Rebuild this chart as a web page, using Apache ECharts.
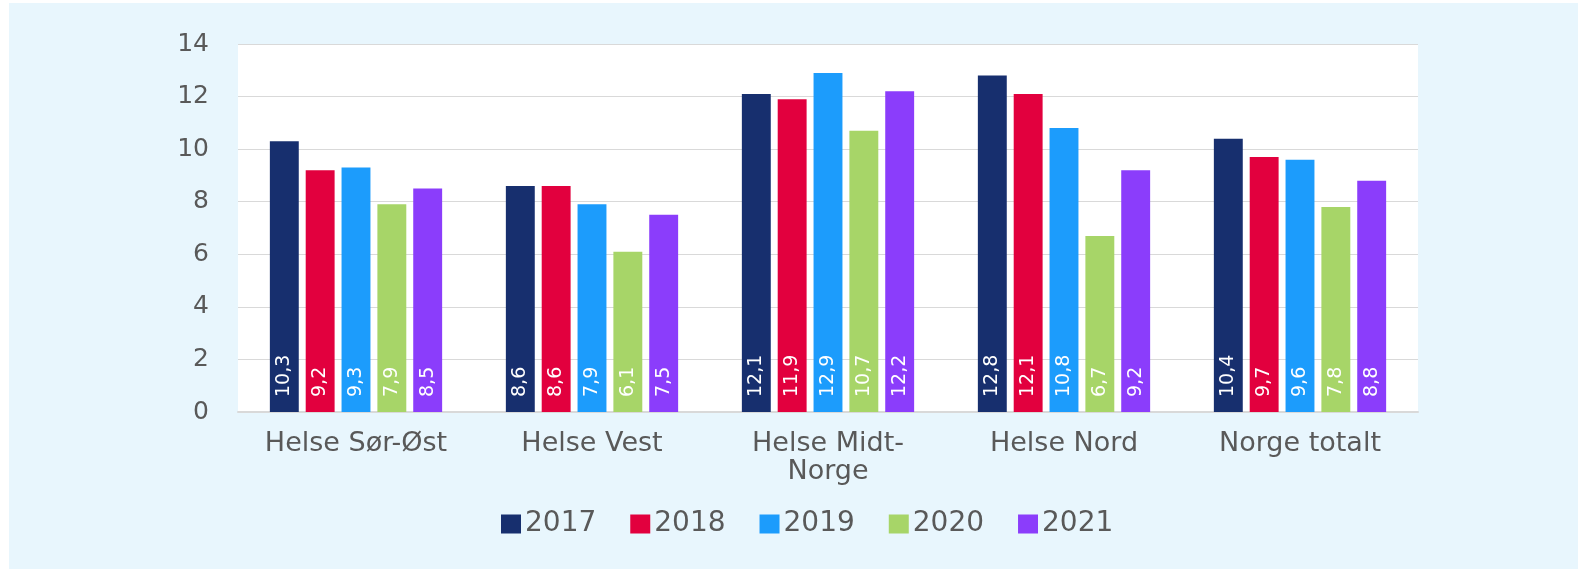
<!DOCTYPE html>
<html>
<head>
<meta charset="utf-8">
<script src="https://cdn.jsdelivr.net/npm/echarts@6/dist/echarts.min.js"></script>
<style>
html,body{margin:0;padding:0;background:#ffffff;width:1578px;height:569px;overflow:hidden;}
#chart{position:absolute;left:9px;top:3px;width:1569px;height:566px;background:#e8f6fd;}
</style>
</head>
<body>
<div id="chart"></div>
<script>
const categories = ['Helse Sør-Øst', 'Helse Vest', 'Helse Midt-Norge', 'Helse Nord', 'Norge totalt'];
const years = ['2017', '2018', '2019', '2020', '2021'];
const v2017 = [10.3, 8.6, 12.1, 12.8, 10.4];
const v2018 = [9.2, 8.6, 11.9, 12.1, 9.7];
const v2019 = [9.3, 7.9, 12.9, 10.8, 9.6];
const v2020 = [7.9, 6.1, 10.7, 6.7, 7.8];
const v2021 = [8.5, 7.5, 12.2, 9.2, 8.8];
const yTicks = [0, 2, 4, 6, 8, 10, 12, 14];

const seriesValues = [v2017, v2018, v2019, v2020, v2021];
const colors = ['#172f6e', '#e2003e', '#1c9cfc', '#a7d568', '#8b3dfb'];
const font = '"DejaVu Sans", "Liberation Sans", Arial, sans-serif';

const chart = echarts.init(document.getElementById('chart'), null, {renderer: 'canvas'});
chart.setOption({
  animation: false,
  color: colors,
  grid: {left: 229, right: 160, top: 41, bottom: 157, show: true, backgroundColor: '#ffffff', borderWidth: 0},
  legend: {
    data: years,
    left: 487,
    top: 502,
    itemWidth: 20,
    itemHeight: 19,
    itemGap: 34,
    icon: 'rect',
    textStyle: {fontFamily: font, fontSize: 28, color: '#595959', padding: [0, 0, 0, -1]}
  },
  xAxis: {
    type: 'category',
    data: categories,
    axisTick: {show: false},
    axisLine: {lineStyle: {color: '#d9d9d9', width: 2}},
    axisLabel: {
      interval: 0,
      hideOverlap: false,
      fontFamily: font, fontSize: 27, color: '#595959', margin: 18, lineHeight: 28,
      formatter: v => v.replace('Midt-', 'Midt-\n')
    }
  },
  yAxis: {
    type: 'value',
    min: yTicks[0],
    max: yTicks[yTicks.length - 1],
    interval: 2,
    axisLine: {show: false},
    axisTick: {show: false},
    splitLine: {lineStyle: {color: '#d9d9d9', width: 1}},
    axisLabel: {fontFamily: font, fontSize: 25, color: '#595959', margin: 29}
  },
  series: years.map((y, i) => ({
    name: y,
    type: 'bar',
    data: seriesValues[i],
    barGap: '24%',
    barCategoryGap: '27%',
    label: {
      show: true,
      position: 'insideBottom',
      distance: 15,
      rotate: 90,
      align: 'left',
      verticalAlign: 'middle',
      color: '#ffffff',
      fontFamily: font,
      fontSize: 19,
      formatter: p => p.value.toFixed(1).replace('.', ',')
    }
  }))
});
</script>
</body>
</html>
